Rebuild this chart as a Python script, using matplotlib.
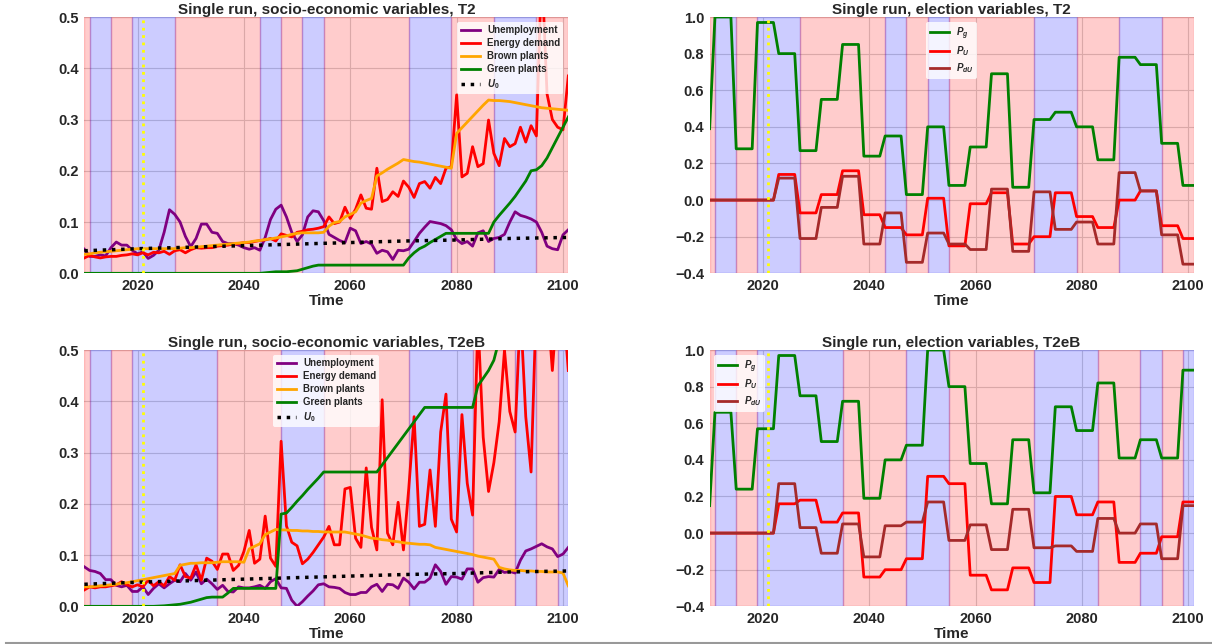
import numpy as np
import matplotlib
matplotlib.use('Agg')
import matplotlib.pyplot as plt

plt.rcParams['font.family'] = ['Liberation Sans', 'DejaVu Sans']
plt.rcParams['font.weight'] = 'bold'
plt.rcParams['axes.titleweight'] = 'bold'
plt.rcParams['axes.labelweight'] = 'bold'
plt.rcParams['mathtext.fontset'] = 'custom'
plt.rcParams['mathtext.it'] = 'Liberation Sans:bold:italic'
plt.rcParams['mathtext.rm'] = 'Liberation Sans:bold'
plt.rcParams['mathtext.bf'] = 'Liberation Sans:bold'
for k in ['text.color', 'axes.labelcolor', 'xtick.color', 'ytick.color']:
    plt.rcParams[k] = '0.15'

years = np.arange(2010, 2102)
# start of each term: before the first election, then one election every 4 years
term_start = np.array([2010, 2011, 2015, 2019, 2023, 2027, 2031, 2035, 2039, 2043, 2047, 2051,
                       2055, 2059, 2063, 2067, 2071, 2075, 2079, 2083, 2087, 2091, 2095, 2099])

# ---- T2 ----
u_t2 = [0.047, 0.033, 0.033, 0.036, 0.034, 0.050, 0.061, 0.055, 0.055, 0.045,
        0.038, 0.042, 0.029, 0.035, 0.045, 0.080, 0.124, 0.115, 0.100, 0.072,
        0.052, 0.068, 0.096, 0.096, 0.080, 0.078, 0.062, 0.058, 0.058, 0.055,
        0.050, 0.047, 0.050, 0.045, 0.070, 0.105, 0.125, 0.133, 0.110, 0.080,
        0.062, 0.075, 0.110, 0.122, 0.120, 0.103, 0.076, 0.070, 0.064, 0.060,
        0.088, 0.083, 0.058, 0.062, 0.057, 0.039, 0.045, 0.042, 0.027, 0.045,
        0.044, 0.047, 0.062, 0.078, 0.090, 0.101, 0.099, 0.097, 0.093, 0.085,
        0.066, 0.058, 0.062, 0.053, 0.079, 0.083, 0.062, 0.068, 0.070, 0.076,
        0.100, 0.120, 0.113, 0.110, 0.106, 0.100, 0.080, 0.053, 0.048, 0.046,
        0.075, 0.085]
e_t2 = [0.030, 0.035, 0.032, 0.030, 0.032, 0.033, 0.033, 0.035, 0.036, 0.038,
        0.036, 0.040, 0.036, 0.041, 0.040, 0.043, 0.037, 0.044, 0.046, 0.040,
        0.046, 0.050, 0.049, 0.050, 0.050, 0.053, 0.054, 0.055, 0.057, 0.058,
        0.060, 0.060, 0.062, 0.064, 0.065, 0.068, 0.063, 0.077, 0.074, 0.071,
        0.080, 0.082, 0.085, 0.086, 0.088, 0.091, 0.110, 0.097, 0.100, 0.129,
        0.107, 0.125, 0.153, 0.127, 0.125, 0.205, 0.140, 0.144, 0.159, 0.150,
        0.180, 0.168, 0.148, 0.175, 0.179, 0.166, 0.187, 0.175, 0.205, 0.208,
        0.348, 0.188, 0.195, 0.247, 0.208, 0.214, 0.299, 0.234, 0.210, 0.263,
        0.247, 0.253, 0.285, 0.256, 0.288, 0.268, 0.600, 0.350, 0.300, 0.285,
        0.280, 0.385]
b_t2 = [0.037, 0.038, 0.040, 0.041, 0.042, 0.043, 0.044, 0.045, 0.046, 0.047,
        0.048, 0.048, 0.048, 0.048, 0.048, 0.048, 0.048, 0.048, 0.049, 0.050,
        0.050, 0.051, 0.052, 0.053, 0.054, 0.055, 0.056, 0.057, 0.058, 0.059,
        0.060, 0.061, 0.063, 0.064, 0.066, 0.067, 0.069, 0.071, 0.073, 0.076,
        0.078, 0.079, 0.079, 0.079, 0.079, 0.080, 0.092, 0.099, 0.101, 0.110,
        0.115, 0.120, 0.137, 0.142, 0.146, 0.190, 0.196, 0.203, 0.209, 0.215,
        0.222, 0.220, 0.218, 0.217, 0.215, 0.213, 0.211, 0.209, 0.207, 0.205,
        0.273, 0.284, 0.295, 0.306, 0.317, 0.328, 0.338, 0.337, 0.337, 0.336,
        0.335, 0.333, 0.331, 0.329, 0.327, 0.325, 0.323, 0.322, 0.321, 0.320,
        0.319, 0.318]
g_t2 = [0, 0, 0, 0, 0, 0, 0, 0, 0, 0,
        0, 0, 0, 0, 0, 0, 0, 0, 0, 0,
        0, 0, 0, 0, 0, 0, 0, 0, 0, 0,
        0, 0, 0, 0, 0.001, 0.002, 0.003, 0.003, 0.003, 0.004,
        0.005, 0.008, 0.011, 0.014, 0.016, 0.016, 0.016, 0.016, 0.016, 0.016,
        0.016, 0.016, 0.016, 0.016, 0.016, 0.016, 0.016, 0.016, 0.016, 0.016,
        0.016, 0.030, 0.040, 0.048, 0.053, 0.060, 0.066, 0.072, 0.078, 0.078,
        0.078, 0.078, 0.078, 0.078, 0.078, 0.078, 0.078, 0.100, 0.113, 0.125,
        0.137, 0.150, 0.165, 0.180, 0.200, 0.202, 0.210, 0.225, 0.245, 0.265,
        0.285, 0.305]
u0_years = [2010, 2020, 2030, 2040, 2050, 2060, 2070, 2080, 2090, 2101]
u0_t2 = [0.044, 0.048, 0.051, 0.054, 0.057, 0.060, 0.063, 0.065, 0.068, 0.070]

pg_t2 = [0.39, 1.00, 0.28, 0.97, 0.80, 0.27, 0.55, 0.85, 0.24, 0.35, 0.03, 0.40,
         0.08, 0.29, 0.69, 0.07, 0.44, 0.48, 0.40, 0.22, 0.78, 0.74, 0.31, 0.08]
pu_t2 = [0, 0, 0, 0, 0.14, -0.07, 0.03, 0.16, -0.08, -0.15, -0.19, 0.01,
         -0.25, -0.02, 0.04, -0.24, -0.20, 0.04, -0.09, -0.15, 0.00, 0.05, -0.14, -0.21]
pdu_t2 = [0, 0, 0, 0, 0.12, -0.21, -0.04, 0.13, -0.24, -0.07, -0.34, -0.18,
          -0.24, -0.27, 0.06, -0.28, 0.045, -0.16, -0.12, -0.24, 0.15, 0.05, -0.19, -0.35]
gov_t2 = ['red', 'blue', 'red', 'blue', 'blue', 'red', 'red', 'red', 'red', 'blue', 'red', 'blue',
          'red', 'red', 'red', 'red', 'blue', 'blue', 'red', 'red', 'blue', 'blue', 'red', 'red']

# ---- T2eB ----
u_t2eb = [0.077, 0.070, 0.068, 0.064, 0.052, 0.052, 0.041, 0.038, 0.041, 0.029,
          0.029, 0.038, 0.023, 0.035, 0.044, 0.036, 0.044, 0.051, 0.048, 0.064,
          0.051, 0.067, 0.044, 0.053, 0.044, 0.033, 0.041, 0.029, 0.028, 0.038,
          0.036, 0.036, 0.038, 0.041, 0.035, 0.048, 0.054, 0.036, 0.035, 0.012,
          0.000, 0.009, 0.020, 0.030, 0.042, 0.044, 0.038, 0.037, 0.035, 0.027,
          0.023, 0.023, 0.027, 0.027, 0.038, 0.043, 0.029, 0.043, 0.042, 0.035,
          0.055, 0.047, 0.034, 0.047, 0.047, 0.055, 0.081, 0.068, 0.043, 0.058,
          0.057, 0.053, 0.073, 0.073, 0.047, 0.056, 0.058, 0.057, 0.072, 0.066,
          0.068, 0.065, 0.090, 0.108, 0.112, 0.117, 0.122, 0.116, 0.112, 0.097,
          0.102, 0.115]
e_t2eb = [0.032, 0.038, 0.036, 0.038, 0.038, 0.040, 0.042, 0.048, 0.042, 0.038,
          0.042, 0.038, 0.051, 0.040, 0.048, 0.040, 0.058, 0.051, 0.081, 0.058,
          0.055, 0.081, 0.051, 0.094, 0.088, 0.072, 0.102, 0.102, 0.070, 0.080,
          0.107, 0.148, 0.084, 0.092, 0.176, 0.094, 0.078, 0.322, 0.157, 0.125,
          0.118, 0.083, 0.092, 0.105, 0.120, 0.135, 0.156, 0.120, 0.120, 0.229,
          0.232, 0.133, 0.115, 0.270, 0.154, 0.110, 0.403, 0.143, 0.120, 0.203,
          0.110, 0.230, 0.370, 0.156, 0.160, 0.266, 0.156, 0.340, 0.414, 0.170,
          0.145, 0.374, 0.240, 0.178, 0.560, 0.330, 0.224, 0.280, 0.360, 0.500,
          0.380, 0.340, 0.580, 0.370, 0.262, 0.600, 0.650, 0.600, 0.460, 0.600,
          0.600, 0.460]
b_t2eb = [0.038, 0.038, 0.039, 0.040, 0.041, 0.042, 0.043, 0.045, 0.046, 0.048,
          0.050, 0.052, 0.054, 0.056, 0.058, 0.060, 0.062, 0.064, 0.080, 0.082,
          0.084, 0.084, 0.085, 0.085, 0.085, 0.086, 0.087, 0.087, 0.087, 0.087,
          0.086, 0.112, 0.117, 0.122, 0.140, 0.145, 0.150, 0.149, 0.149, 0.148,
          0.148, 0.147, 0.147, 0.146, 0.146, 0.145, 0.145, 0.145, 0.145, 0.145,
          0.143, 0.141, 0.139, 0.136, 0.133, 0.132, 0.130, 0.129, 0.127, 0.126,
          0.124, 0.123, 0.122, 0.121, 0.121, 0.120, 0.115, 0.113, 0.111, 0.109,
          0.107, 0.105, 0.103, 0.101, 0.098, 0.096, 0.094, 0.092, 0.076, 0.073,
          0.071, 0.070, 0.070, 0.069, 0.069, 0.068, 0.068, 0.067, 0.067, 0.067,
          0.065, 0.040]
g_t2eb = [0, 0, 0, 0, 0, 0, 0, 0, 0, 0,
          0, 0, 0, 0, 0.0005, 0.001, 0.002, 0.003, 0.004, 0.006,
          0.008, 0.011, 0.014, 0.017, 0.018, 0.018, 0.018, 0.026, 0.035, 0.035,
          0.035, 0.035, 0.035, 0.035, 0.035, 0.035, 0.035, 0.180, 0.182, 0.193,
          0.205, 0.216, 0.228, 0.239, 0.250, 0.262, 0.262, 0.262, 0.262, 0.262,
          0.262, 0.262, 0.262, 0.262, 0.262, 0.262, 0.276, 0.290, 0.304, 0.318,
          0.332, 0.346, 0.360, 0.374, 0.388, 0.388, 0.388, 0.388, 0.388, 0.388,
          0.388, 0.388, 0.388, 0.388, 0.430, 0.445, 0.460, 0.480, 0.520, 0.550,
          0.580, 0.610, 0.640, 0.670, 0.700, 0.730, 0.760, 0.790, 0.820, 0.850,
          0.880, 0.910]
u0_t2eb = [0.043, 0.047, 0.050, 0.053, 0.056, 0.059, 0.062, 0.064, 0.067, 0.069]

pg_t2eb = [0.15, 0.66, 0.24, 0.57, 0.97, 0.75, 0.50, 0.72, 0.19, 0.40, 0.48, 1.00,
           0.80, 0.38, 0.16, 0.51, 0.22, 0.69, 0.56, 0.82, 0.41, 0.51, 0.41, 0.89]
pu_t2eb = [0, 0, 0, 0, 0.16, 0.18, 0.06, 0.11, -0.24, -0.20, -0.14, 0.31,
           0.27, -0.23, -0.31, -0.19, -0.27, 0.20, 0.10, 0.17, -0.16, -0.11, -0.02, 0.17]
pdu_t2eb = [0, 0, 0, 0, 0.27, 0.03, -0.11, 0.05, -0.13, 0.04, 0.06, 0.17,
            -0.04, 0.045, -0.09, 0.13, -0.08, -0.07, -0.10, 0.08, 0.00, 0.05, -0.14, 0.15]
gov_t2eb = ['red', 'blue', 'red', 'blue', 'blue', 'blue', 'blue', 'red', 'red', 'red', 'blue', 'blue',
            'red', 'red', 'red', 'red', 'blue', 'blue', 'blue', 'red', 'red', 'blue', 'red', 'blue']

start_year = 2021
term_len = np.diff(np.append(term_start, years[-1] + 1))


def per_year(vals):
    return np.repeat(vals, term_len)


def shade(ax, gov):
    edges = list(term_start) + [years[-1]]
    i = 0
    while i < len(gov):
        j = i
        while j + 1 < len(gov) and gov[j + 1] == gov[i]:
            j += 1
        ax.axvspan(edges[i], edges[j + 1], color=gov[i], alpha=0.2)
        i = j + 1


def style(ax, title):
    ax.set_title(title, fontsize=11, pad=2)
    ax.set_xlabel('Time', fontsize=11, labelpad=1)
    ax.set_xlim(years[0], years[-1])
    ax.set_xticks([2020, 2040, 2060, 2080, 2100])
    ax.tick_params(length=0, labelsize=10.5, pad=4)
    ax.grid(True, color='#d2d2d2', lw=0.8)
    ax.set_axisbelow(True)
    for s in ax.spines.values():
        s.set_visible(False)
    ax.axvline(start_year, color='yellow', ls=':', lw=2)


def legend(ax, loc):
    ax.legend(loc=loc, fontsize=7, framealpha=0.8, edgecolor='none',
              labelspacing=0.3, borderpad=0.35, handletextpad=0.7)


fig = plt.figure(figsize=(12.12, 6.44), dpi=100)
w, h = 0.3993, 0.398
pos = [[0.0696, 0.5756], [0.5855, 0.5756], [0.0696, 0.0585], [0.5855, 0.0585]]

runs = [('T2', u_t2, e_t2, b_t2, g_t2, u0_t2, pg_t2, pu_t2, pdu_t2, gov_t2, 'upper right', 'upper center'),
        ('T2eB', u_t2eb, e_t2eb, b_t2eb, g_t2eb, u0_t2eb, pg_t2eb, pu_t2eb, pdu_t2eb, gov_t2eb, 'upper center', 'upper left')]

for r, (name, u, e, b, g, u0, pg, pu, pdu, gov, loc1, loc2) in enumerate(runs):
    ax = fig.add_axes([pos[2 * r][0], pos[2 * r][1], w, h])
    shade(ax, gov)
    ax.plot(years, u, color='purple', lw=2, label='Unemployment')
    ax.plot(years, e, color='red', lw=2, label='Energy demand')
    ax.plot(years, b, color='orange', lw=2, label='Brown plants')
    ax.plot(years, g, color='green', lw=2, label='Green plants')
    ax.plot(u0_years, u0, color='black', ls=':', lw=2.5, label='$U_0$')
    ax.set_ylim(0, 0.5)
    ax.set_yticks(np.arange(0, 0.51, 0.1))
    style(ax, 'Single run, socio-economic variables, ' + name)
    legend(ax, loc1)

    ax = fig.add_axes([pos[2 * r + 1][0], pos[2 * r + 1][1], w, h])
    shade(ax, gov)
    ax.plot(years, per_year(pg), color='green', lw=2, label='$P_g$')
    ax.plot(years, per_year(pu), color='red', lw=2, label='$P_U$')
    ax.plot(years, per_year(pdu), color='brown', lw=2, label='$P_{dU}$')
    ax.set_ylim(-0.4, 1.0)
    ax.set_yticks(np.arange(-0.4, 1.01, 0.2))
    style(ax, 'Single run, election variables, ' + name)
    legend(ax, loc2)

fig.add_artist(plt.Line2D([0.005, 1], [0.001, 0.001], color='#999999', lw=1.5))

fig.savefig('out.png', dpi=100)
